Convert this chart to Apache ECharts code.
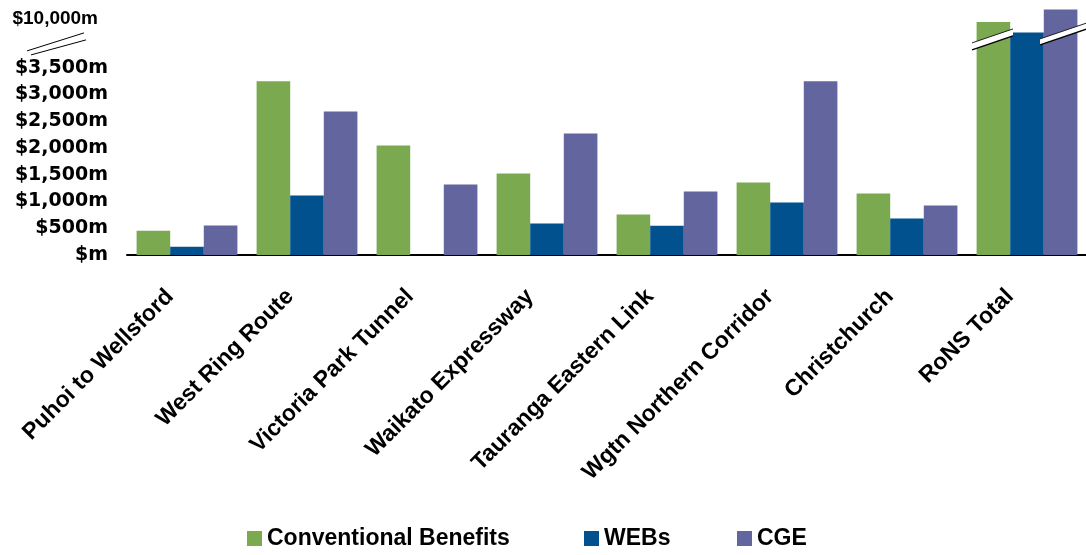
<!DOCTYPE html>
<html>
<head>
<meta charset="utf-8">
<script src="https://cdn.jsdelivr.net/npm/echarts@6/dist/echarts.min.js"></script>
<style>
  html, body { margin: 0; padding: 0; background: #fff; }
  #chart { width: 1086px; height: 555px; }
</style>
</head>
<body>
<div id="chart"></div>
<script>
  // RoNS benefit estimates, $m
  var categories = ['Puhoi to Wellsford', 'West Ring Route', 'Victoria Park Tunnel', 'Waikato Expressway',
    'Tauranga Eastern Link', 'Wgtn Northern Corridor', 'Christchurch', 'RoNS Total'];
  var conventional = [455, 3246, 2047, 1523, 755, 1355, 1149, 9940];
  var webs = [155, 1111, 0, 587, 549, 980, 680, 9740];
  var cge = [550, 2684, 1317, 2272, 1186, 3246, 924, 10170];
  var yTicks = [0, 500, 1000, 1500, 2000, 2500, 3000, 3500, 10000];
  var seriesNames = ['Conventional Benefits', 'WEBs', 'CGE'];

  // axis is cut between these two values
  var breakStart = 3800;
  var breakEnd = 9600;

  var chart = echarts.init(document.getElementById('chart'));

  function money(v){
    if(v === 0){
      return '$m';
    }
    return '$' + v.toString().replace(/\B(?=(\d{3})+(?!\d))/g, ',') + 'm';
  }

  // one legend per item so each sits where the original put it
  var legendLeft = [247, 584, 737];
  var legends = seriesNames.map(function(name, i){
    return {
      left: legendLeft[i],
      top: 527,
      padding: 0,
      itemWidth: 15,
      itemHeight: 15,
      icon: 'rect',
      textStyle: {
        fontFamily: '"Liberation Sans", Arial, sans-serif',
        fontWeight: 'bold',
        fontSize: 23,
        color: '#000'
      },
      data: [name]
    };
  });

  var options = {
    animation: false,
    color: ['#7BA94F', '#00518E', '#63659E'],
    grid: {
      left: 127,
      right: -1,
      top: 8,
      bottom: 300,
      containLabel: false,
      outerBoundsMode: 'none'
    },
    legend: legends,
    xAxis: {
      type: 'category',
      data: categories,
      axisLine: {
        lineStyle: { color: '#000', width: 2 }
      },
      axisTick: { show: false },
      axisLabel: {
        interval: 0,
        rotate: 45,
        margin: 21,
        padding: [0, 24, 0, 0],
        color: '#000',
        fontFamily: '"Liberation Sans", Arial, sans-serif',
        fontWeight: 'bold',
        fontSize: 23
      }
    },
    yAxis: {
      type: 'value',
      min: 0,
      max: 10200,
      interval: 500,
      breaks: [{
        start: breakStart,
        end: breakEnd,
        gap: 217
      }],
      breakArea: { show: false },
      axisLine: { show: false },
      axisTick: { show: false },
      splitLine: { show: false },
      axisLabel: {
        customValues: yTicks,
        margin: 19,
        color: '#000',
        fontFamily: '"DejaVu Sans", sans-serif',
        fontWeight: 'bold',
        fontSize: 19,
        formatter: function(value){
          if(value > breakEnd){
            return '{top|' + money(value) + '}';
          }
          return money(value);
        },
        rich: {
          top: {
            fontFamily: '"Liberation Sans", Arial, sans-serif',
            fontWeight: 'bold',
            fontSize: 19,
            color: '#000',
            padding: [0, 10, 0, 0]
          }
        }
      }
    },
    series: [
      { name: seriesNames[0], type: 'bar', data: conventional, barGap: '0%', barCategoryGap: '16%' },
      { name: seriesNames[1], type: 'bar', data: webs, barGap: '0%', barCategoryGap: '16%' },
      { name: seriesNames[2], type: 'bar', data: cge, barGap: '0%', barCategoryGap: '16%' }
    ]
  };

  chart.setOption(options);

  // break marks: a double slash beside the labels and slanted cuts through the total bars
  var yLow = chart.convertToPixel({ yAxisIndex: 0 }, breakStart);
  var yHigh = chart.convertToPixel({ yAxisIndex: 0 }, breakEnd);
  var yb = (yLow + yHigh) / 2;
  var cx = chart.convertToPixel({ xAxisIndex: 0 }, categories.length - 1);
  var slash = { stroke: '#000', lineWidth: 1 };

  function cut(x1, x2, yTop1, yTop2, thick){
    return [
      { type: 'polygon', z: 200,
        shape: { points: [[x1, yTop1], [x2, yTop2], [x2, yTop2 + thick], [x1, yTop1 + thick]] },
        style: { fill: '#fff' } },
      { type: 'line', z: 201, shape: { x1: x1, y1: yTop1, x2: x2, y2: yTop2 },
        style: { stroke: '#222', lineWidth: 1 } },
      { type: 'line', z: 201, shape: { x1: x1, y1: yTop1 + thick, x2: x2, y2: yTop2 + thick },
        style: { stroke: '#000', lineWidth: 1.5 } }
    ];
  }

  var marks = [
    { type: 'line', shape: { x1: 27, y1: yb + 5, x2: 84, y2: yb - 13 }, style: slash, z: 200 },
    { type: 'line', shape: { x1: 31, y1: yb + 9, x2: 86, y2: yb - 6 }, style: slash, z: 200 }
  ];
  marks = marks.concat(cut(cx - 55, cx - 14, yb - 3, yb - 17, 7));
  marks = marks.concat(cut(cx + 13, cx + 60, yb - 7, yb - 23, 6));

  chart.setOption({ graphic: marks });
</script>
</body>
</html>
